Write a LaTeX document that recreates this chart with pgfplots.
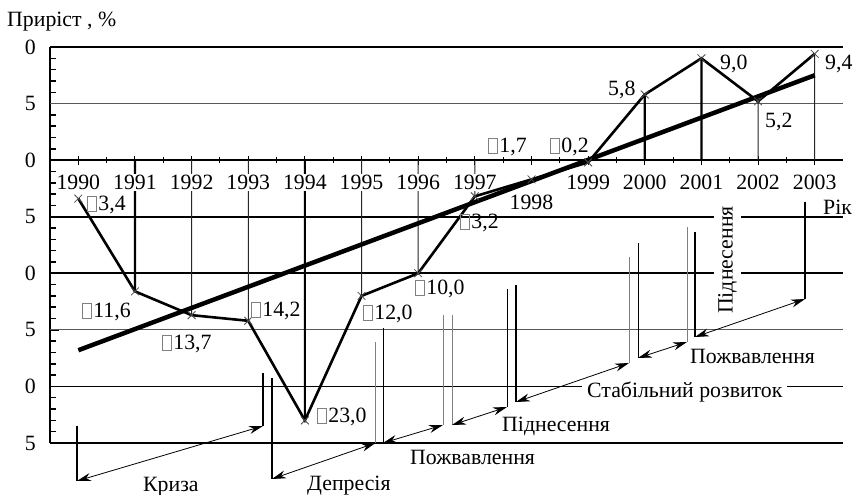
\documentclass[border=0pt]{standalone}
\usepackage{fontspec}
\setmainfont{Liberation Serif}
\usepackage{pgfplots}
\pgfplotsset{compat=1.18}
\usepackage{pgfplotstable}
\usetikzlibrary{arrows.meta}
\newcommand{\bx}{{\color{gray}\setlength{\fboxsep}{0pt}\setlength{\fboxrule}{0.6bp}\fbox{\rule{0pt}{14bp}\hspace{8.5bp}}}\hspace{1.5bp}}

\pgfplotstableread{
year val
1990 -3.4
1991 -11.6
1992 -13.7
1993 -14.2
1994 -23.0
1995 -12.0
1996 -10.0
1997 -3.2
1998 -1.7
1999 -0.2
2000 5.8
2001 9.0
2002 5.2
2003 9.4
}\growth

\pgfplotstableread{
year val
1991 -11.6
1994 -23.0
2000 5.8
2001 9.0
}\dropthick

\pgfplotstableread{
year val
1992 -13.7
1993 -14.2
1995 -12.0
1996 -10.0
1997 -3.2
2002 5.2
2003 9.4
}\dropthin

\pgfplotstableread{
year val
1990 -16.8
2003 7.5
}\trend

\begin{document}
\fontsize{21.8bp}{25bp}\selectfont
\begin{tikzpicture}[font=\fontsize{21.8bp}{25bp}\selectfont,
  dbl/.style={line width=0.8bp, {Stealth[length=14bp,width=8bp]}-{Stealth[length=14bp,width=8bp]}},
  yr/.style={fill=white, inner xsep=1bp, inner ysep=1bp, anchor=north, yshift=-14bp}]
\begin{axis}[
  at={(0,0)}, anchor=south west,
  scale only axis, width=793bp, height=396bp,
  xmin=1989.5, xmax=2003.5, ymin=-25, ymax=10,
  axis x line=middle, axis y line=left,
  axis line style={-},
  x axis line style={line width=1.3bp},
  y axis line style={line width=2bp},
  hide obscured x ticks=false, hide obscured y ticks=false,
  xtick={1990,1991,1992,1993,1994,1995,1996,1997,1998,1999,2000,2001,2002,2003},
  xticklabels={},
  minor x tick num=1,
  ytick={-25,-20,-15,-10,-5,0,5,10},
  yticklabels={5,0,5,0,5,0,5,0},
  minor y tick num=4,
  xtick align=center, ytick align=inside,
  major tick length=9bp, minor tick length=6bp,
  x tick style={line width=1bp, black},
  y tick style={line width=1.5bp, black},
  yticklabel style={inner sep=0pt, anchor=east, xshift=-14bp},
  clip=false,
]
% horizontal grid lines
\draw[line width=2.2bp] (1989.5,10) -- (2003.5,10);
\draw[line width=1bp, gray!70!black] (1989.5,5) -- (2003.5,5);
\draw[line width=2bp] (1989.5,-5) -- (2003.5,-5);
\draw[line width=1.6bp] (1989.5,-10) -- (2003.5,-10);
\draw[line width=1bp, gray!70!black] (1989.5,-15) -- (2003.5,-15);
\draw[line width=1.2bp] (1989.5,-20) -- (2003.5,-20);
\draw[line width=2.6bp] (1989.5,-25) -- (2003.5,-25);
% drop lines
\addplot[ybar, bar width=2.2bp, bar shift=0pt, fill=black, draw=none] table[x=year,y=val] {\dropthick};
\addplot[ybar, bar width=1bp, bar shift=0pt, fill=black!85, draw=none] table[x=year,y=val] {\dropthin};
% year labels (white background hides the drop lines behind them)
\node[yr] at (1990,0) {1990};
\node[yr] at (1991,0) {1991};
\node[yr] at (1992,0) {1992};
\node[yr] at (1993,0) {1993};
\node[yr] at (1994,0) {1994};
\node[yr] at (1995,0) {1995};
\node[yr] at (1996,0) {1996};
\node[yr] at (1997,0) {1997};
\node[yr, yshift=-20bp] at (1998,0) {1998};
\node[yr] at (1999,0) {1999};
\node[yr] at (2000,0) {2000};
\node[yr] at (2001,0) {2001};
\node[yr] at (2002,0) {2002};
\node[yr] at (2003,0) {2003};
% trend
\addplot[line width=4.5bp, black] table[x=year,y=val] {\trend};
% data
\addplot[line width=2.6bp, black, mark=x, mark size=5.5bp,
  mark options={line width=0.8bp, black!70}] table[x=year,y=val] {\growth};
\end{axis}
\begin{scope}[x=1bp, y=-1bp, shift={(-50bp,443bp)}]
% title and axis name
\node[inner sep=0pt, anchor=base west] at (7,27) {Приріст , \%};
\node[inner sep=0pt, anchor=base west] at (823,215) {Рік};
% data labels
\node[inner sep=0pt, anchor=base west] at (87,211) {\bx3,4};
\node[inner sep=0pt, anchor=base west] at (82,318) {\bx11,6};
\node[inner sep=0pt, anchor=base west] at (162,350) {\bx13,7};
\node[inner sep=0pt, anchor=base west] at (251,317) {\bx14,2};
\node[inner sep=0pt, anchor=base west] at (317,423) {\bx23,0};
\node[inner sep=0pt, anchor=base west] at (363,320) {\bx12,0};
\node[inner sep=0pt, anchor=base west] at (415,295) {\bx10,0};
\node[inner sep=0pt, anchor=base west] at (460,229) {\bx3,2};
\node[inner sep=0pt, anchor=base west] at (488,153) {\bx1,7};
\node[inner sep=0pt, anchor=base west] at (550,153) {\bx0,2};
\node[inner sep=0pt, anchor=base west] at (608,96) {5,8};
\node[inner sep=0pt, anchor=base west] at (720,70) {9,0};
\node[inner sep=0pt, anchor=base west] at (765,128) {5,2};
\node[inner sep=0pt, anchor=base west] at (825,70) {9,4};
% cycle phases
% Kryza
\draw[line width=2bp] (77,426) -- (77,481);
\draw[line width=2bp] (263,373) -- (263,426);
\draw[dbl] (77,481) -- (263,426);
\node[inner sep=0pt, anchor=base west] at (143,492) {Криза};
% Depresiia
\draw[line width=2bp] (272,378) -- (272,479);
\draw[line width=1bp, gray] (375.5,342) -- (375.5,443);
\draw[dbl] (272,479) -- (375.5,443);
\node[inner sep=0pt, anchor=base west] at (307,491) {Депресія};
% Pozhvavlennia 1
\draw[line width=1bp] (383,328) -- (383,443);
\draw[line width=1bp, gray] (443,315) -- (443,425);
\draw[dbl] (383,443) -- (443,425);
\node[inner sep=0pt, anchor=base west] at (410,465) {Пожвавлення};
% Pidnesennia 1
\draw[line width=1bp, gray] (452,315) -- (452,425);
\draw[line width=1bp] (507,289) -- (507,407);
\draw[dbl] (452,425) -- (507,407);
\node[inner sep=0pt, anchor=base west] at (502,432) {Піднесення};
% Stabilnyi rozvytok
\draw[line width=2bp] (516,285) -- (516,402);
\draw[line width=1bp, gray] (629,257) -- (629,363);
\draw[dbl] (516,402) -- (629,363);
\node[inner xsep=5bp, inner ysep=1bp, fill=white, anchor=base west] at (582,398) {Стабільний розвиток};
% Pozhvavlennia 2
\draw[line width=1bp] (638,243) -- (638,358);
\draw[line width=1bp, gray] (687,227) -- (687,342);
\draw[dbl] (638,358) -- (687,342);
\node[inner sep=0pt, anchor=base west] at (690,364) {Пожвавлення};
% Pidnesennia 2
\draw[line width=2bp] (695,232) -- (695,337);
\draw[line width=2bp] (805,202) -- (805,299);
\draw[dbl] (695,337) -- (805,299);
\node[inner xsep=1bp, inner ysep=4bp, fill=white, rotate=90] at (727.5,260) {Піднесення};
\pgfresetboundingbox
\path (0,0) rectangle (860,495);
\end{scope}
\end{tikzpicture}
\end{document}
